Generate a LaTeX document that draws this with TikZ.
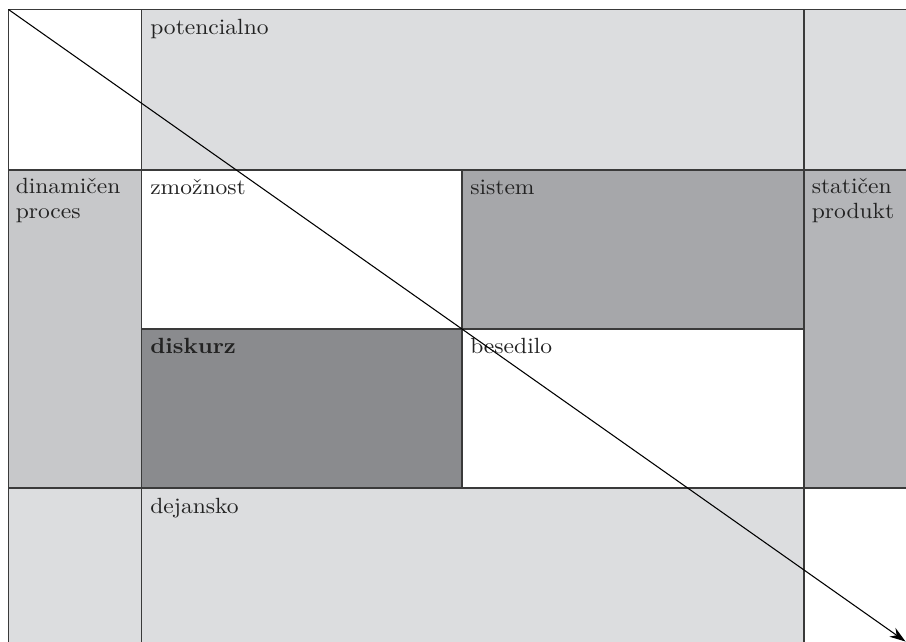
\documentclass[tikz,border=0pt]{standalone}
\usepackage{fontspec}
\setmainfont{lmroman10-regular.otf}[BoldFont=lmroman10-bold.otf, FakeStretch=1.07]
\usetikzlibrary{arrows.meta}
\definecolor{lightg}{HTML}{DCDDDF}
\definecolor{leftg}{HTML}{C7C8CA}
\definecolor{rightg}{HTML}{B4B5B8}
\definecolor{sistemg}{HTML}{A6A7AA}
\definecolor{diskurzg}{HTML}{8A8B8E}
\definecolor{gridc}{HTML}{3A3A3A}
\definecolor{textc}{HTML}{222222}
\tikzset{
  label/.style={anchor=base west, inner sep=0, align=left, text=textc,
    font=\fontsize{16.5pt}{18.75pt}\selectfont},
  gridline/.style={draw=gridc, line width=1.1pt},
  diag/.style={draw=black, line width=0.8pt, -{Stealth[length=12pt, width=8pt]}}
}
\begin{document}
\begin{tikzpicture}[x=0.75pt, y=-0.75pt]
\useasboundingbox (0,0) rectangle (906,642);
% fills
\fill[lightg] (141.5,9.5) rectangle (906,170);
\fill[leftg] (8.5,170) rectangle (141.5,488);
\fill[rightg] (804,170) rectangle (906,488);
\fill[sistemg] (462,170) rectangle (804,329);
\fill[diskurzg] (141.5,329) rectangle (462,488);
\fill[lightg] (8.5,488) rectangle (804,642);
% grid
\draw[gridline] (8.5,642) -- (8.5,9.5) -- (906,9.5);
\draw[gridline] (141.5,9.5) -- (141.5,642);
\draw[gridline] (804,9.5) -- (804,642);
\draw[gridline] (462,170) -- (462,488);
\draw[gridline] (8.5,170) -- (906,170);
\draw[gridline] (141.5,329) -- (804,329);
\draw[gridline] (8.5,488) -- (906,488);
% labels (base anchor = baseline of the last line)
\node[label] (pot) at (150,35) {potencialno};
\node[label] (din) at (15.5,218.5) {dinamičen\\proces};
\node[label] (zmo) at (150,194) {zmožnost};
\node[label] (sis) at (470,194) {sistem};
\node[label] (sta) at (811.5,218.5) {statičen\\produkt};
\node[label] (dis) at (150,353) {\bfseries diskurz};
\node[label] (bes) at (470,353) {besedilo};
\node[label] (dej) at (150,513) {dejansko};
% diagonal arrow
\coordinate (start) at (8.5,9.5);
\coordinate (end) at (905.5,641.5);
\draw[diag] (start) -- (end);
\end{tikzpicture}
\end{document}
